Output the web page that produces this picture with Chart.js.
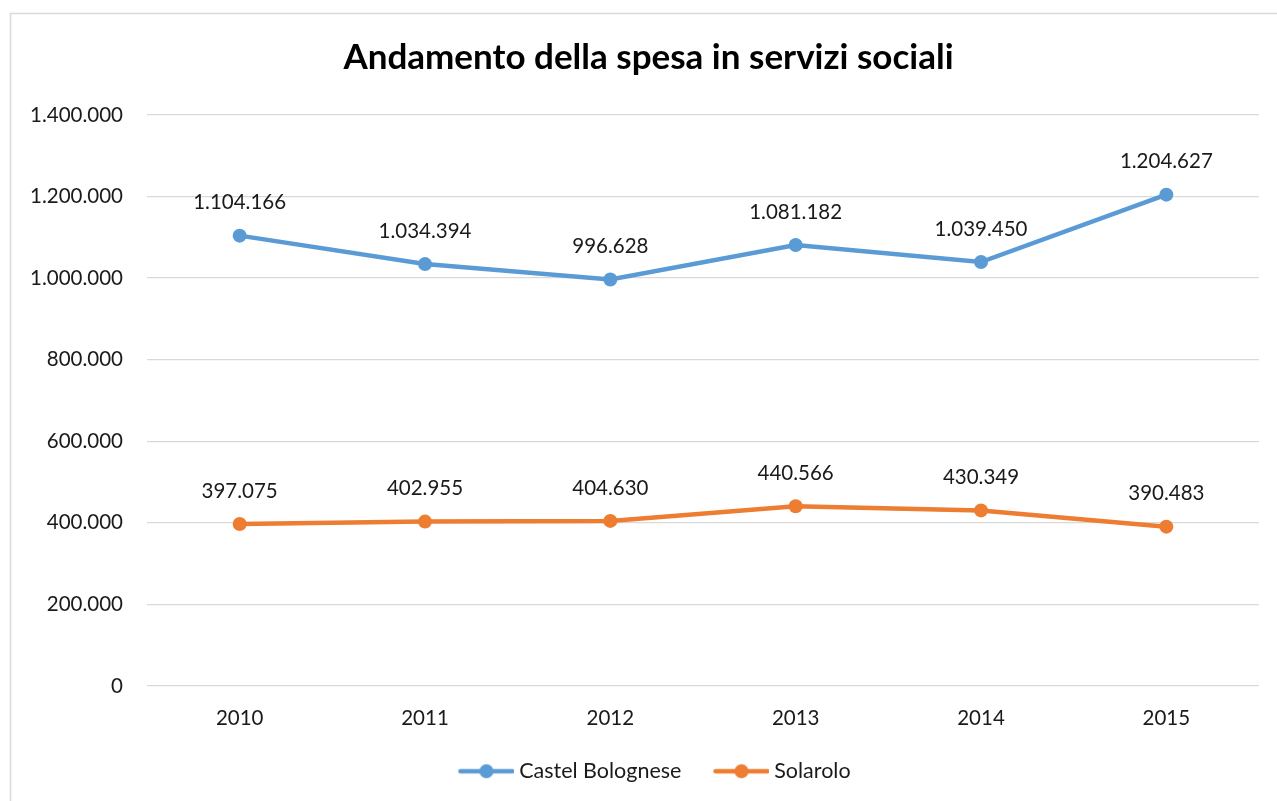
<!DOCTYPE html>
<html>
<head>
<meta charset="utf-8">
<script src="https://cdn.jsdelivr.net/npm/chart.js@4"></script>
<style>
  html, body { margin: 0; padding: 0; background: #fff; }
  #wrap { width: 1277px; height: 801px; position: relative; }
</style>
</head>
<body>
<div id="wrap"><canvas id="c"></canvas></div>
<script>
// Spesa annua in servizi sociali per comune (euro)
const years = ['2010', '2011', '2012', '2013', '2014', '2015'];
const castelBolognese = [1104166, 1034394, 996628, 1081182, 1039450, 1204627];
const solarolo = [397075, 402955, 404630, 440566, 430349, 390483];
const seriesNames = ['Castel Bolognese', 'Solarolo'];
const seriesColors = ['#5B9BD5', '#ED7D31'];
const yTicks = [0, 200000, 400000, 600000, 800000, 1000000, 1200000, 1400000];

const FONT = 'Lato, "Open Sans", "Liberation Sans", sans-serif';
const TEXT_SIZE = 20.5;
const MARKER_BOX = 62;

// Thousands separator with dots (Italian style)
function fmt(v) {
  return String(Math.round(v)).replace(/\B(?=(\d{3})+(?!\d))/g, '.');
}

// Legend marker: a short line with a dot in the middle.
// The image is wider than the legend box so the line sits close to the text.
function legendMarker(color) {
  const cv = document.createElement('canvas');
  cv.width = 74; cv.height = 16;
  const g = cv.getContext('2d');
  g.strokeStyle = color; g.lineWidth = 4.5; g.lineCap = 'round';
  g.beginPath(); g.moveTo(20, 8); g.lineTo(72, 8); g.stroke();
  g.fillStyle = color;
  g.beginPath(); g.arc(46, 8, 7, 0, Math.PI * 2); g.fill();
  return cv;
}
const markers = seriesColors.map(legendMarker);

// Outer frame around the chart
const framePlugin = {
  id: 'frame',
  beforeDraw(chart) {
    const ctx = chart.ctx;
    ctx.save();
    ctx.fillStyle = '#fff';
    ctx.fillRect(0, 0, chart.width, chart.height);
    ctx.strokeStyle = '#d9d9d9';
    ctx.lineWidth = 1.5;
    ctx.strokeRect(10.5, 13.5, chart.width, chart.height);
    ctx.restore();
  }
};

// Title and legend are centred over the plot area rather than the whole canvas
const centreBlocks = {
  id: 'centreBlocks',
  afterLayout(chart) {
    if (chart.titleBlock) chart.titleBlock.left += 28;
    if (chart.legend) chart.legend.left += 28;
  }
};

// Value labels above each point
const valueLabels = {
  id: 'valueLabels',
  afterDatasetsDraw(chart) {
    const ctx = chart.ctx;
    ctx.save();
    ctx.font = TEXT_SIZE + 'px ' + FONT;
    ctx.fillStyle = '#1a1a1a';
    ctx.textAlign = 'center';
    ctx.textBaseline = 'middle';
    chart.data.datasets.forEach((ds, i) => {
      const meta = chart.getDatasetMeta(i);
      meta.data.forEach((pt, j) => {
        ctx.fillText(fmt(ds.data[j]), pt.x, pt.y - 33);
      });
    });
    ctx.restore();
  }
};

new Chart(document.getElementById('c'), {
  type: 'line',
  data: {
    labels: years,
    datasets: [
      {
        label: seriesNames[0],
        data: castelBolognese,
        borderColor: seriesColors[0],
        backgroundColor: seriesColors[0],
        borderWidth: 4.5,
        pointRadius: 7,
        pointHoverRadius: 7,
        pointBorderWidth: 0,
        tension: 0
      },
      {
        label: seriesNames[1],
        data: solarolo,
        borderColor: seriesColors[1],
        backgroundColor: seriesColors[1],
        borderWidth: 4.5,
        pointRadius: 7,
        pointHoverRadius: 7,
        pointBorderWidth: 0,
        tension: 0
      }
    ]
  },
  options: {
    responsive: true,
    maintainAspectRatio: false,
    animation: false,
    layout: { padding: { left: 10, right: 18, top: 0, bottom: 9 } },
    plugins: {
      title: {
        display: true,
        text: 'Andamento della spesa in servizi sociali',
        color: '#000',
        font: { family: FONT, size: 35, weight: 'bold' },
        padding: { top: 37, bottom: 36 }
      },
      legend: {
        position: 'bottom',
        labels: {
          usePointStyle: true,
          pointStyleWidth: MARKER_BOX,
          color: '#1a1a1a',
          font: { family: FONT, size: 21.5 },
          padding: 20,
          generateLabels(chart) {
            const items = Chart.defaults.plugins.legend.labels.generateLabels(chart);
            items.forEach((it, i) => { it.pointStyle = markers[i]; });
            return items;
          }
        }
      },
      tooltip: { enabled: false }
    },
    scales: {
      x: {
        offset: true,
        afterFit(scale) { scale.height -= 10; },
        grid: { display: false, drawTicks: false },
        border: { display: false },
        ticks: { color: '#1a1a1a', font: { family: FONT, size: TEXT_SIZE }, padding: 20 }
      },
      y: {
        min: 0,
        max: 1400000,
        afterFit(scale) { scale.width = 137; },
        afterBuildTicks(scale) { scale.ticks = yTicks.map(v => ({ value: v })); },
        grid: { color: '#d9d9d9', lineWidth: 1.3, drawTicks: false },
        border: { display: false },
        ticks: {
          color: '#1a1a1a',
          font: { family: FONT, size: TEXT_SIZE },
          padding: 24,
          callback: v => fmt(v)
        }
      }
    }
  },
  plugins: [framePlugin, centreBlocks, valueLabels]
});
</script>
</body>
</html>
